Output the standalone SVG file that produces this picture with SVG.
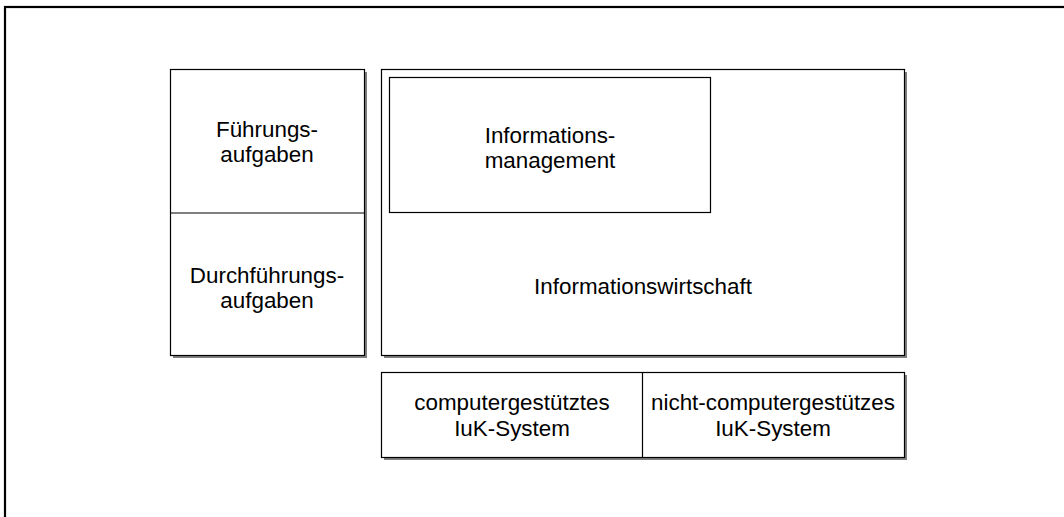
<svg xmlns="http://www.w3.org/2000/svg" width="1064" height="517" viewBox="0 0 1064 517">
<style>
.box{fill:#fff;stroke:#000;stroke-width:1.2}
.shadow{fill:#808080}
.t{font-family:"Liberation Sans",Arial,sans-serif;font-size:22.4px;fill:#000;text-anchor:middle}
</style>
<rect width="1064" height="517" fill="#fff"/>
<g id="frame">
<rect x="5" y="7" width="1070" height="520" fill="none" stroke="#000" stroke-width="2.2"/>
</g>
<g id="aufgaben">
<rect class="shadow" x="173" y="72" width="194" height="286"/>
<rect class="box" x="170.5" y="69.5" width="194" height="286"/>
<line x1="170.5" y1="213" x2="364.5" y2="213" stroke="#000" stroke-width="1.2"/>
<text class="t" x="267" y="137">Führungs-</text>
<text class="t" x="267" y="162">aufgaben</text>
<text class="t" x="267" y="283">Durchführungs-</text>
<text class="t" x="267" y="308">aufgaben</text>
</g>
<g id="informationswirtschaft">
<rect class="shadow" x="384" y="72" width="523" height="286"/>
<rect class="box" x="381.5" y="69.5" width="523" height="286"/>
<text class="t" x="643" y="294">Informationswirtschaft</text>
</g>
<g id="informationsmanagement">
<rect class="box" x="389.5" y="77.5" width="321" height="135"/>
<text class="t" x="550" y="143">Informations-</text>
<text class="t" x="550" y="168">management</text>
</g>
<g id="iuk">
<rect class="shadow" x="384" y="375" width="523" height="85"/>
<rect class="box" x="381.5" y="372.5" width="523" height="85"/>
<line x1="642.5" y1="372.5" x2="642.5" y2="457.5" stroke="#000" stroke-width="1.2"/>
<text class="t" x="512" y="410">computergestütztes</text>
<text class="t" x="512" y="436">IuK-System</text>
<text class="t" x="773" y="410">nicht-computergestützes</text>
<text class="t" x="773" y="436">IuK-System</text>
</g>
<g id="connectors"></g>
</svg>
